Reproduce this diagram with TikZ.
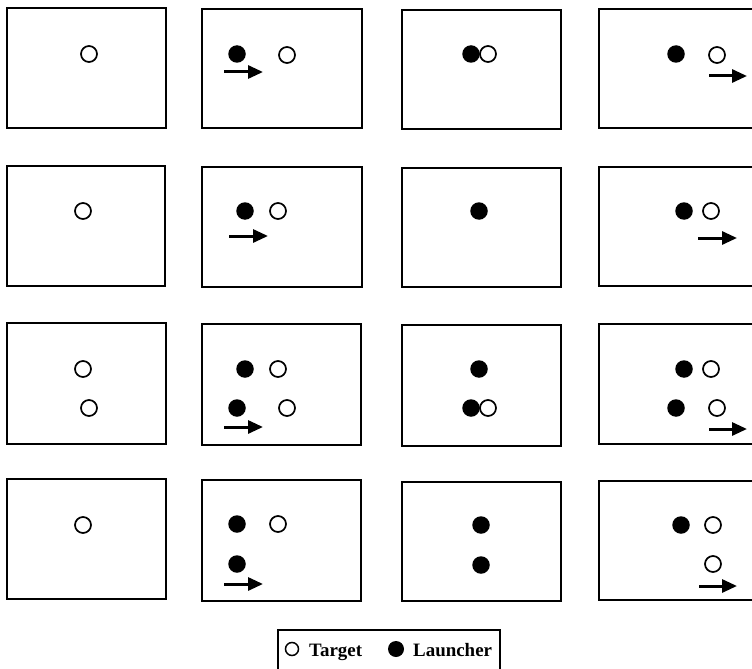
\documentclass[tikz,border=0pt]{standalone}
\usepackage{fontspec}
\setmainfont{Liberation Serif}
\usetikzlibrary{arrows.meta}
\begin{document}
\begin{tikzpicture}[x=1bp,y=-1bp,
  panel/.style={draw=black,line width=2bp},
  tgt/.style={circle,draw=black,fill=white,line width=1.7bp,minimum size=16bp,inner sep=0pt},
  lau/.style={circle,fill=black,minimum size=17.5bp,inner sep=0pt},
  arr/.style={line width=3bp,-{Triangle[length=15bp,width=13bp]}},
  legtext/.style={font=\bfseries\fontsize{19}{22}\selectfont,anchor=base west,inner sep=0pt}]
\useasboundingbox (0,0) rectangle (752,669);
% panels
\draw[panel] (7,8) rectangle (166,128);
\draw[panel] (202,9) rectangle (362,128);
\draw[panel] (402,10) rectangle (561,129);
\draw[panel] (599,9) rectangle (760,128);
\draw[panel] (7,166) rectangle (165,286);
\draw[panel] (202,167) rectangle (362,287);
\draw[panel] (402,168) rectangle (561,287);
\draw[panel] (599,167) rectangle (760,286);
\draw[panel] (7,323) rectangle (166,444);
\draw[panel] (202,324) rectangle (361,445);
\draw[panel] (402,325) rectangle (561,446);
\draw[panel] (599,324) rectangle (760,444);
\draw[panel] (7,479) rectangle (166,599);
\draw[panel] (202,480) rectangle (361,601);
\draw[panel] (402,482) rectangle (561,601);
\draw[panel] (599,481) rectangle (760,600);
% row 1
\node[tgt] (a1t) at (89,54) {};
\node[lau] (a2l) at (237,54) {};
\node[tgt] (a2t) at (287,55) {};
\coordinate (a2s) at (224,72); \coordinate (a2e) at (263,72);
\draw[arr] (a2s) -- (a2e);
\node[lau] (a3l) at (471,54) {};
\node[tgt] (a3t) at (488,54) {};
\node[lau] (a4l) at (676,54) {};
\node[tgt] (a4t) at (717,55) {};
\coordinate (a4s) at (709,76); \coordinate (a4e) at (747,76);
\draw[arr] (a4s) -- (a4e);
% row 2
\node[tgt] (b1t) at (83,211) {};
\node[lau] (b2l) at (245,211) {};
\node[tgt] (b2t) at (278,211) {};
\coordinate (b2s) at (229,236); \coordinate (b2e) at (268,236);
\draw[arr] (b2s) -- (b2e);
\node[lau] (b3l) at (479,211) {};
\node[lau] (b4l) at (684,211) {};
\node[tgt] (b4t) at (711,211) {};
\coordinate (b4s) at (698,238); \coordinate (b4e) at (737,238);
\draw[arr] (b4s) -- (b4e);
% row 3
\node[tgt] (c1t) at (83,369) {};
\node[tgt] (c1u) at (89,408) {};
\node[lau] (c2l) at (245,369) {};
\node[tgt] (c2t) at (278,369) {};
\node[lau] (c2m) at (237,408) {};
\node[tgt] (c2u) at (287,408) {};
\coordinate (c2s) at (224,427); \coordinate (c2e) at (263,427);
\draw[arr] (c2s) -- (c2e);
\node[lau] (c3l) at (479,369) {};
\node[lau] (c3m) at (471,408) {};
\node[tgt] (c3t) at (488,408) {};
\node[lau] (c4l) at (684,369) {};
\node[tgt] (c4t) at (711,369) {};
\node[lau] (c4m) at (676,408) {};
\node[tgt] (c4u) at (717,408) {};
\coordinate (c4s) at (709,429); \coordinate (c4e) at (747,429);
\draw[arr] (c4s) -- (c4e);
% row 4
\node[tgt] (d1t) at (83,525) {};
\node[lau] (d2l) at (237,524) {};
\node[tgt] (d2t) at (278,524) {};
\node[lau] (d2m) at (237,564) {};
\coordinate (d2s) at (224,584); \coordinate (d2e) at (263,584);
\draw[arr] (d2s) -- (d2e);
\node[lau] (d3l) at (481,525) {};
\node[lau] (d3m) at (481,565) {};
\node[lau] (d4l) at (681,525) {};
\node[tgt] (d4t) at (713,525) {};
\node[tgt] (d4u) at (713,564) {};
\coordinate (d4s) at (699,586); \coordinate (d4e) at (737,586);
\draw[arr] (d4s) -- (d4e);
% legend
\draw[line width=1.3bp] (278,675) -- (278,630) -- (500,630) -- (500,675);
\node[tgt,minimum size=13bp,line width=1.5bp] (lt) at (292,649) {};
\node[legtext] (ltt) at (309,656) {Target};
\node[lau,minimum size=16bp] (ll) at (396,649) {};
\node[legtext] (llt) at (413,656) {Launcher};
\end{tikzpicture}
\end{document}
